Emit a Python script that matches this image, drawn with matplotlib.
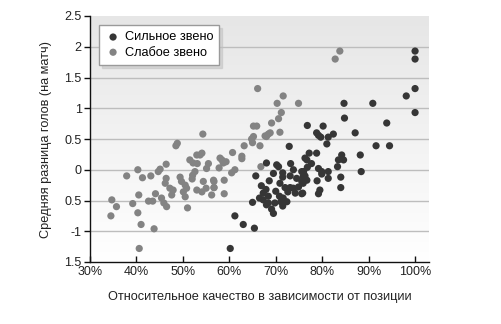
import numpy as np
import matplotlib
matplotlib.use("Agg")
import matplotlib.pyplot as plt

plt.rcParams['font.family'] = ['Liberation Sans', 'DejaVu Sans']

# Strong link: (relative quality %, mean goal difference per match)
strong_x = [76.8, 72.9, 68.0, 70.2, 70.6, 73.2, 76.7, 65.7, 69.5, 71.5, 71.5, 73.8, 75.6, 73.1,
            76.3, 68.6, 70.9, 72.0, 73.1, 73.8, 74.9, 75.9, 74.2, 75.6, 67.9, 67.3, 68.4, 66.5,
            67.3, 70.8, 71.6, 71.1, 72.4, 68.0, 68.4, 69.8, 71.5, 69.1, 69.5, 65.0, 61.2, 63.0,
            65.4, 60.2, 100.0, 100.0, 100.0, 98.1, 100.0, 84.7, 90.9, 93.9, 84.8, 87.1, 91.6,
            94.5, 80.2, 78.8, 79.7, 81.3, 82.4, 81.0, 88.2, 88.4, 84.2, 84.6, 83.5, 83.3, 84.0,
            84.0, 77.2, 78.8, 76.3, 77.7, 76.8, 76.0, 79.2, 79.9, 79.9, 81.3, 81.3, 78.9, 79.5,
            79.2, 75.8, 75.9, 76.7, 75.6, 79.2, 74.5, 72.6, 66.9, 70.0]
strong_y = [0.72, 0.38, 0.11, 0.08, 0.05, 0.10, 0.16, -0.10, -0.06, -0.05, -0.12, 0.00, -0.03,
            -0.10, -0.10, -0.18, -0.22, -0.29, -0.29, -0.30, -0.28, -0.22, -0.38, -0.39, -0.32,
            -0.38, -0.43, -0.46, -0.49, -0.43, -0.46, -0.52, -0.52, -0.57, -0.54, -0.54, -0.59,
            -0.64, -0.71, -0.53, -0.75, -0.89, -0.95, -1.28, 1.93, 1.80, 1.32, 1.20, 0.93, 1.08,
            1.08, 0.76, 0.84, 0.60, 0.39, 0.39, 0.71, 0.60, 0.53, 0.53, 0.58, 0.42, 0.24, -0.03,
            0.24, 0.16, 0.16, 0.05, -0.12, -0.29, 0.27, 0.27, 0.19, 0.10, 0.04, -0.03, 0.02,
            -0.03, -0.07, -0.03, -0.14, -0.18, -0.33, -0.39, -0.38, -0.11, -0.17, -0.19, 0.56,
            -0.14, -0.36, -0.26, -0.35]

# Weak link
weak_x = [54.3, 48.8, 48.5, 53.7, 54.1, 51.5, 52.2, 53.1, 55.5, 55.1, 46.4, 45.1, 44.7, 40.3,
          37.9, 41.3, 43.1, 46.4, 49.4, 52.1, 52.0, 54.4, 56.6, 46.2, 49.7, 47.2, 47.9, 50.5,
          50.8, 50.1, 53.0, 54.1, 55.0, 56.7, 56.2, 50.5, 44.1, 45.4, 45.9, 46.5, 47.6, 42.6,
          43.5, 40.5, 39.2, 34.7, 35.7, 34.5, 40.3, 41.0, 43.8, 40.6, 51.0, 66.1, 71.6, 70.3,
          74.9, 71.2, 70.6, 69.1, 65.2, 65.9, 70.9, 68.8, 68.0, 65.2, 65.0, 66.6, 63.2, 60.7,
          62.7, 62.7, 58.4, 59.3, 57.8, 61.2, 60.5, 66.8, 58.9, 56.7, 56.7, 58.9, 83.8, 82.8,
          64.8, 67.7, 68.4, 58.7, 58.0, 52.6, 53.0]
weak_y = [0.58, 0.43, 0.39, 0.24, 0.27, 0.16, 0.11, 0.10, 0.10, 0.02, 0.09, 0.01, -0.03, 0.00,
          -0.10, -0.13, -0.10, -0.14, -0.12, -0.09, -0.15, -0.19, -0.17, -0.22, -0.19, -0.30,
          -0.33, -0.25, -0.30, -0.36, -0.33, -0.36, -0.30, -0.29, -0.41, -0.44, -0.39, -0.46,
          -0.54, -0.60, -0.41, -0.51, -0.51, -0.41, -0.55, -0.49, -0.60, -0.75, -0.70, -0.89,
          -0.96, -1.28, -0.62, 1.32, 1.20, 1.08, 1.08, 0.93, 0.83, 0.76, 0.71, 0.71, 0.61, 0.60,
          0.54, 0.54, 0.44, 0.39, 0.39, 0.28, 0.22, 0.18, 0.16, 0.13, 0.03, 0.00, -0.05, 0.05,
          -0.17, -0.19, -0.29, -0.39, 1.93, 1.80, 0.50, 0.55, 0.58, 0.11, 0.19, -0.03, 0.24]

x_ticks = [30, 40, 50, 60, 70, 80, 90, 100]
x_labels = ['30%', '40%', '50%', '60%', '70%', '80%', '90%', '100%']
y_ticks = [2.5, 2, 1.5, 1, 0.5, 0, -0.5, -1, -1.5]
y_labels = ['2.5', '2', '1.5', '1', '0.5', '0', '0.5', '-1', '1.5']

fig = plt.figure(figsize=(5.02, 3.24), dpi=100)
ax = fig.add_axes([90 / 502, 1 - 262 / 324, 339 / 502, 246 / 324])
ax.set_xlim(30, 103)
ax.set_ylim(-1.5, 2.5)

# soft vertical gradient behind the points
grad = np.linspace(0, 1, 256).reshape(-1, 1)
ax.imshow(grad, extent=(30, 103, -1.5, 2.5), aspect='auto', origin='lower',
          cmap=matplotlib.colors.LinearSegmentedColormap.from_list('bg', ['#ffffff', '#e6e6e6']),
          zorder=0, interpolation='bicubic')

for yv in [-1, -0.5, 0, 0.5, 1, 1.5, 2]:
    ax.axhline(yv, color='#bdbdbd', lw=1.0, zorder=1)

ax.scatter(strong_x, strong_y, s=27, color='#363636', edgecolors='none', zorder=3,
           label='Сильное звено')
ax.scatter(weak_x, weak_y, s=27, color='#838383', edgecolors='none', zorder=2,
           label='Слабое звено')

for side in ['top', 'right']:
    ax.spines[side].set_visible(False)
for side in ['left', 'bottom']:
    ax.spines[side].set_color('#111111')
    ax.spines[side].set_linewidth(1.0)

ax.set_xticks(x_ticks)
ax.set_xticklabels(x_labels, fontsize=9, color='#222222')
ax.set_yticks(y_ticks)
ax.set_yticklabels(y_labels, fontsize=9, color='#222222')
ax.tick_params(axis='x', direction='in', length=4, width=1, pad=3, color='#111111')
ax.tick_params(axis='y', direction='out', length=4, width=1, pad=2, color='#111111')

ax.set_xlabel('Относительное качество в зависимости от позиции', fontsize=9.2,
              color='#222222', labelpad=9)
ax.set_ylabel('Средняя разница голов (на матч)', fontsize=9.2, color='#222222', labelpad=9)

leg = ax.legend(loc='upper left', bbox_to_anchor=(9 / 339, 1 - 9 / 246), borderaxespad=0,
                fontsize=9.2, frameon=True, fancybox=False,
                shadow={'color': '0.75', 'alpha': 0.5},
                handletextpad=0.3, handlelength=1.2, borderpad=0.5, labelspacing=0.25,
                markerscale=1.0)
leg.get_frame().set_edgecolor('#9a9a9a')
leg.get_frame().set_linewidth(1.0)
leg.get_frame().set_facecolor('white')

fig.savefig('out.png', dpi=100)
